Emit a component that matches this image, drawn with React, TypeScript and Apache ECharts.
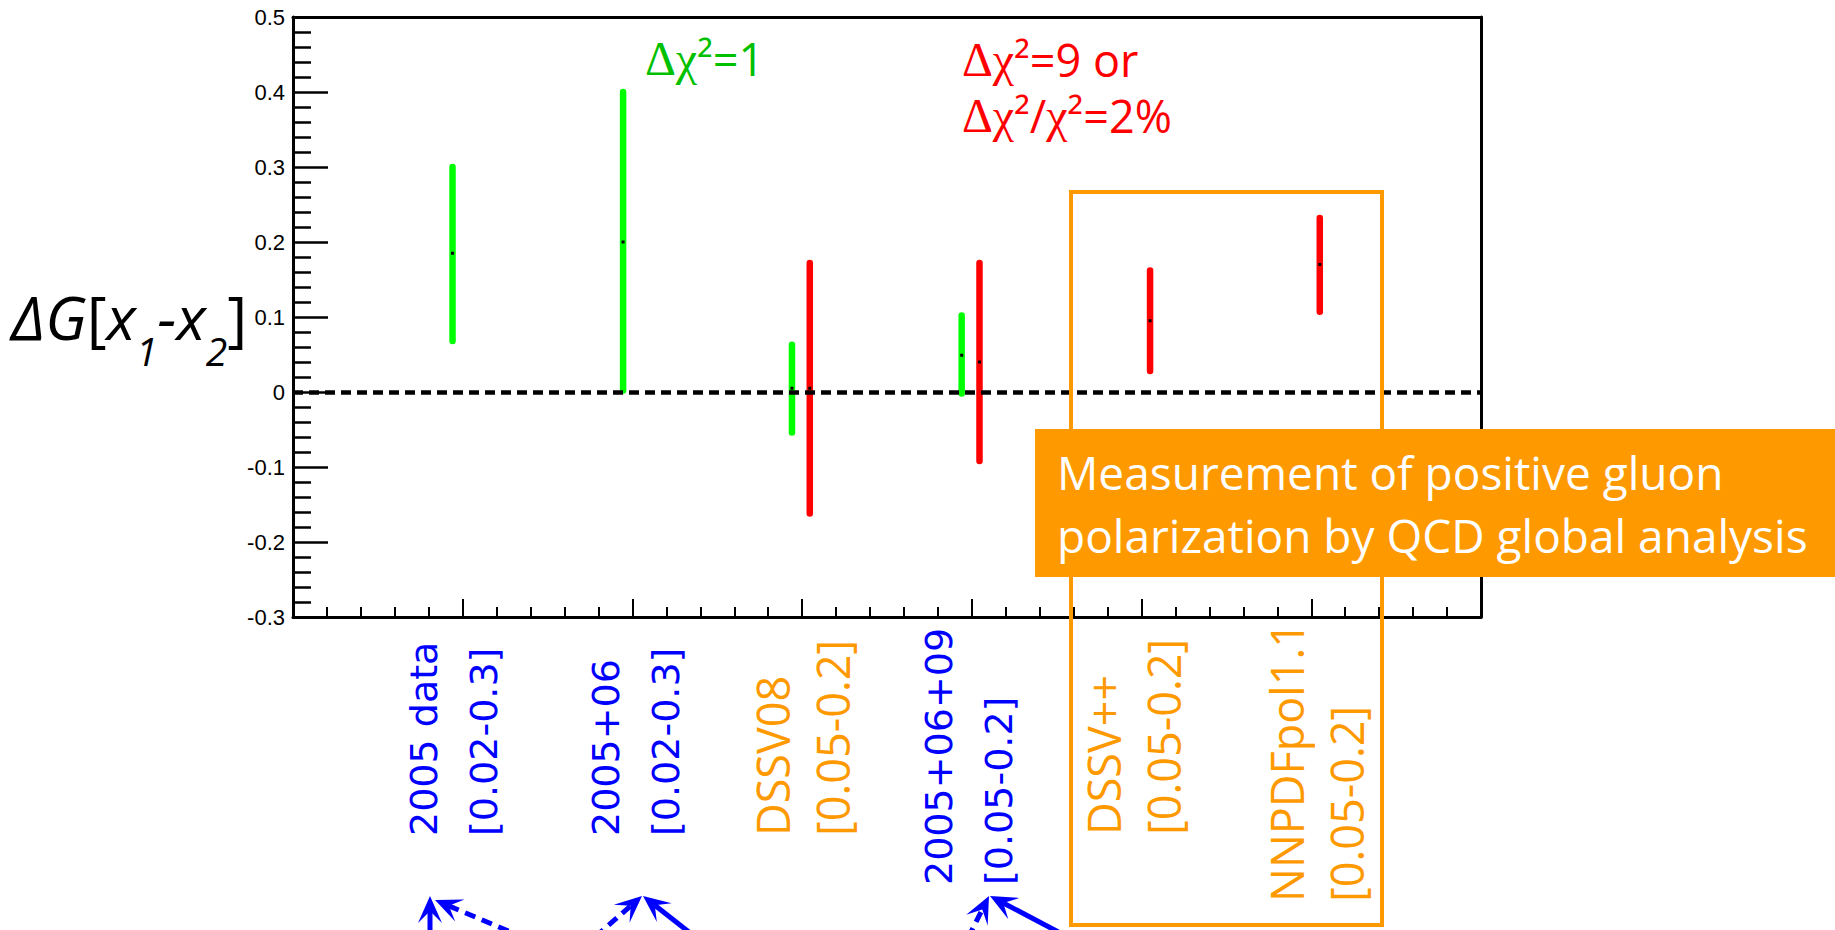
import React, { useEffect, useRef } from 'react';
import * as echarts from 'echarts';

// ---------- data ----------
const Y_MIN = -0.3;
const Y_MAX = 0.5;
const Y_STEP = 0.1;
const X_MIN = 0;
const X_MAX = 7;

const categoryPos = [1, 2, 3, 4, 5, 6];
const labelLine1 = ['2005 data', '2005+06', 'DSSV08', '2005+06+09', 'DSSV++', 'NNPDFpol1.1'];
const labelLine2 = ['[0.02-0.3]', '[0.02-0.3]', '[0.05-0.2]', '[0.05-0.2]', '[0.05-0.2]', '[0.05-0.2]'];
const labelKind = ['data', 'data', 'fit', 'data', 'fit', 'fit'];

// green: delta chi^2 = 1
const greenX = [0.94, 1.945, 2.94, 3.94];
const greenLow = [0.068, 0.002, -0.054, -0.002];
const greenHigh = [0.3, 0.4, 0.063, 0.102];
const greenMid = [0.185, 0.2, 0.005, 0.049];

// red: delta chi^2 = 9 or 2%
const redX = [3.045, 4.045, 5.05, 6.05];
const redLow = [-0.162, -0.092, 0.028, 0.107];
const redHigh = [0.172, 0.172, 0.162, 0.232];
const redMid = [0.005, 0.04, 0.095, 0.17];

// ---------- layout / styles ----------
const labelDrop = [219, 219, 219, 268, 218, 285];
const labelShift = [-9, 4, 0, -3, -8, 5];
const LINE_GAP = 30;
const kindStyle: Record<string, { fill: string; fontFamily: string; fontSize: number }> = {
  data: { fill: '#0000ff', fontFamily: 'DejaVu Sans', fontSize: 38 },
  fit: { fill: '#ff9900', fontFamily: 'Open Sans', fontSize: 45 },
};

const arrowSpecs = [
  { tip: [430, 896], tail: [430, 945], dashed: false },
  { tip: [435, 900], tail: [525, 938], dashed: true },
  { tip: [642, 896], tail: [595, 937], dashed: true },
  { tip: [643, 896], tail: [694, 936], dashed: false },
  { tip: [989, 896], tail: [968, 938], dashed: true },
  { tip: [990, 896], tail: [1066, 936], dashed: false },
];

function arrowElements(spec: { tip: number[]; tail: number[]; dashed: boolean }) {
  const [tx, ty] = spec.tip;
  const [sx, sy] = spec.tail;
  const dx = tx - sx;
  const dy = ty - sy;
  const len = Math.hypot(dx, dy);
  const ux = dx / len;
  const uy = dy / len;
  const nx = -uy;
  const ny = ux;
  const L = 27;
  const W = 12;
  const N = 15;
  const head = [
    [tx, ty],
    [tx - L * ux + W * nx, ty - L * uy + W * ny],
    [tx - N * ux, ty - N * uy],
    [tx - L * ux - W * nx, ty - L * uy - W * ny],
  ];
  return [
    {
      type: 'line',
      z: 20,
      shape: { x1: sx, y1: sy, x2: tx - N * ux, y2: ty - N * uy },
      style: { stroke: '#0000ff', lineWidth: 5, lineDash: spec.dashed ? [11, 7] : null },
    },
    { type: 'polygon', z: 20, shape: { points: head }, style: { fill: '#0000ff' } },
  ];
}

function errorBarRender(color: string) {
  return (params: any, api: any) => {
    const x = api.value(0);
    const p1 = api.coord([x, api.value(1)]);
    const p2 = api.coord([x, api.value(2)]);
    const pm = api.coord([x, api.value(3)]);
    return {
      type: 'group',
      children: [
        {
          type: 'line',
          shape: { x1: p1[0], y1: p1[1], x2: p2[0], y2: p2[1] },
          style: { stroke: color, lineWidth: 6.5, lineCap: 'round' },
        },
        {
          type: 'rect',
          shape: { x: pm[0] - 1.5, y: pm[1] - 1.5, width: 3, height: 3 },
          style: { fill: '#000' },
        },
      ],
    };
  };
}

function labelRender(params: any, api: any) {
  const i = api.value(1);
  const pt = api.coord([api.value(0), Y_MIN]);
  const st = kindStyle[labelKind[i]];
  const common = {
    fill: st.fill,
    fontFamily: st.fontFamily,
    fontSize: st.fontSize,
    align: 'left',
    verticalAlign: 'middle',
  };
  return {
    type: 'group',
    children: [
      {
        type: 'text',
        x: pt[0] + labelShift[i] - LINE_GAP,
        y: pt[1] + labelDrop[i],
        rotation: Math.PI / 2,
        style: { ...common, text: labelLine1[i] },
      },
      {
        type: 'text',
        x: pt[0] + labelShift[i] + LINE_GAP,
        y: pt[1] + labelDrop[i],
        rotation: Math.PI / 2,
        style: { ...common, text: labelLine2[i] },
      },
    ],
  };
}

function chiRich(color: string) {
  return {
    g: { fontFamily: 'Liberation Serif', fontSize: 48, fill: color, lineHeight: 56 },
    t: { fontFamily: 'Open Sans', fontSize: 45, fill: color, lineHeight: 56 },
  };
}

function buildOption() {
  const greenData = greenX.map((x, i) => [x, greenLow[i], greenHigh[i], greenMid[i]]);
  const redData = redX.map((x, i) => [x, redLow[i], redHigh[i], redMid[i]]);
  const labelData = categoryPos.map((c, i) => [c, i]);

  const titleFont = 'Open Sans';
  const graphic: any[] = [
    {
      type: 'text',
      x: 11,
      y: 286,
      style: {
        text: '{a|ΔG}{b|[}{a|x}{s|1}{a|-x}{s|2}{b|]}',
        align: 'left',
        verticalAlign: 'top',
        rich: {
          a: { fontFamily: titleFont, fontStyle: 'italic', fontSize: 61, lineHeight: 72, verticalAlign: 'top', fill: '#000' },
          b: { fontFamily: titleFont, fontSize: 61, lineHeight: 72, verticalAlign: 'top', fill: '#000' },
          s: { fontFamily: titleFont, fontStyle: 'italic', fontSize: 39, lineHeight: 30, padding: [45, 0, 0, 0], verticalAlign: 'top', fill: '#000' },
        },
      },
    },
    {
      type: 'text',
      x: 645,
      y: 58,
      z: 20,
      style: { text: '{g|Δχ}{t|²=1}', rich: chiRich('#00c000'), align: 'left', verticalAlign: 'middle' },
    },
    {
      type: 'text',
      x: 962,
      y: 59,
      z: 20,
      style: { text: '{g|Δχ}{t|²=9 or}', rich: chiRich('#ff0000'), align: 'left', verticalAlign: 'middle' },
    },
    {
      type: 'text',
      x: 962,
      y: 115,
      z: 20,
      style: { text: '{g|Δχ}{t|²/}{g|χ}{t|²=2%}', rich: chiRich('#ff0000'), align: 'left', verticalAlign: 'middle' },
    },
    {
      type: 'rect',
      z: 8,
      shape: { x: 1071, y: 192, width: 311, height: 733 },
      style: { fill: 'none', stroke: '#ff9900', lineWidth: 4 },
    },
    {
      type: 'rect',
      z: 30,
      shape: { x: 1035, y: 429, width: 800, height: 148 },
      style: { fill: '#ff9900' },
    },
    {
      type: 'text',
      z: 31,
      x: 1057,
      y: 472,
      style: { text: 'Measurement of positive gluon', fill: '#ffffff', fontFamily: 'Open Sans', fontSize: 46, align: 'left', verticalAlign: 'middle' },
    },
    {
      type: 'text',
      z: 31,
      x: 1057,
      y: 535,
      style: { text: 'polarization by QCD global analysis', fill: '#ffffff', fontFamily: 'Open Sans', fontSize: 46, align: 'left', verticalAlign: 'middle' },
    },
  ];
  arrowSpecs.forEach((s) => graphic.push(...arrowElements(s)));

  return {
    animation: false,
    backgroundColor: '#ffffff',
    grid: { left: 293, right: 354, top: 17, bottom: 313, containLabel: false },
    xAxis: [
      {
        type: 'value',
        min: X_MIN,
        max: X_MAX,
        interval: 1,
        axisLine: { show: true, onZero: false, lineStyle: { color: '#000', width: 3 } },
        axisTick: { show: true, inside: true, length: 18, lineStyle: { color: '#000', width: 2 } },
        minorTick: { show: true, splitNumber: 5, length: 10, lineStyle: { color: '#000', width: 2 } },
        axisLabel: { show: false },
        splitLine: { show: false },
      },
      {
        type: 'value',
        position: 'top',
        min: X_MIN,
        max: X_MAX,
        interval: 1,
        axisLine: { show: true, onZero: false, lineStyle: { color: '#000', width: 3 } },
        axisTick: { show: false },
        axisLabel: { show: false },
        splitLine: { show: false },
      },
    ],
    yAxis: [
      {
        type: 'value',
        min: Y_MIN,
        max: Y_MAX,
        interval: Y_STEP,
        axisLine: { show: true, onZero: false, lineStyle: { color: '#000', width: 3 } },
        axisTick: { show: true, inside: true, length: 35, lineStyle: { color: '#000', width: 2.5 } },
        minorTick: { show: true, splitNumber: 5, length: 18, lineStyle: { color: '#000', width: 2.5 } },
        axisLabel: { color: '#000', fontFamily: 'Liberation Sans', fontSize: 22, margin: 8 },
        splitLine: { show: false },
      },
      {
        type: 'value',
        position: 'right',
        min: Y_MIN,
        max: Y_MAX,
        interval: Y_STEP,
        axisLine: { show: true, onZero: false, lineStyle: { color: '#000', width: 3 } },
        axisTick: { show: false },
        axisLabel: { show: false },
        splitLine: { show: false },
      },
    ],
    series: [
      {
        type: 'custom',
        name: 'green',
        z: 3,
        xAxisIndex: 0,
        yAxisIndex: 0,
        renderItem: errorBarRender('#00ff00'),
        encode: { x: 0, y: [1, 2, 3] },
        data: greenData,
        silent: true,
        markLine: {
          silent: true,
          symbol: ['none', 'none'],
          label: { show: false },
          lineStyle: { color: '#000', type: [10, 6], width: 4.5 },
          data: [{ yAxis: 0 }],
        },
      },
      {
        type: 'custom',
        name: 'red',
        z: 3,
        xAxisIndex: 0,
        yAxisIndex: 0,
        renderItem: errorBarRender('#ff0000'),
        encode: { x: 0, y: [1, 2, 3] },
        data: redData,
        silent: true,
      },
      {
        type: 'custom',
        name: 'labels',
        xAxisIndex: 0,
        yAxisIndex: 0,
        clip: false,
        silent: true,
        renderItem: labelRender,
        encode: { x: 0, y: 1 },
        data: labelData,
      },
    ],
    graphic,
  };
}

export default function App() {
  const ref = useRef<HTMLDivElement>(null);
  useEffect(() => {
    if (!ref.current) return;
    const chart = echarts.init(ref.current, null, { renderer: 'svg' });
    chart.setOption(buildOption() as any);
    return () => {
      chart.dispose();
    };
  }, []);
  return (
    <div
      ref={ref}
      style={{ position: 'fixed', left: 0, top: 0, width: 1835, height: 930, background: '#ffffff' }}
    />
  );
}
